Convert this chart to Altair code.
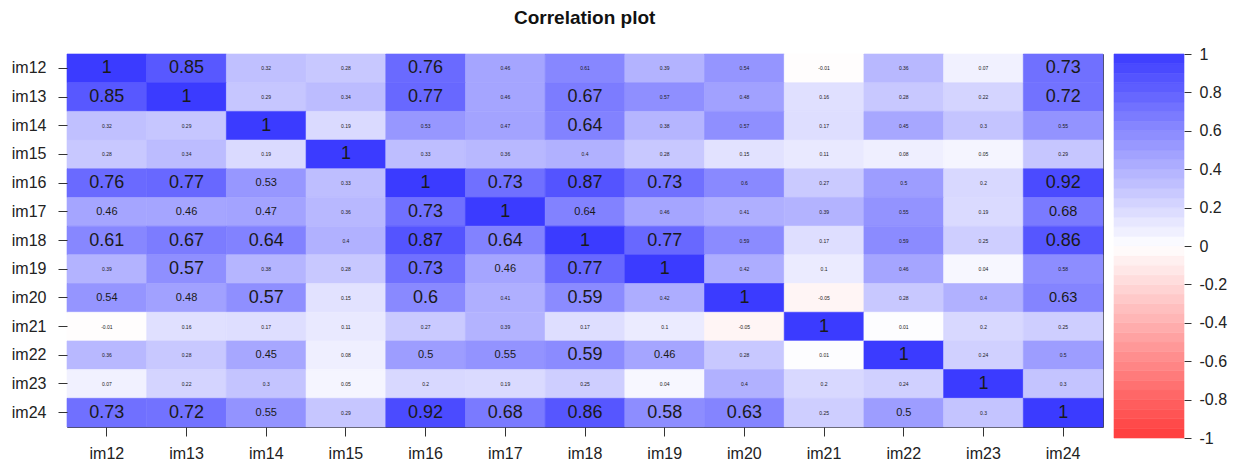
import altair as alt
import pandas as pd

variables = ["im12", "im13", "im14", "im15", "im16", "im17", "im18",
             "im19", "im20", "im21", "im22", "im23", "im24"]

corr_rows = [
    [1, 0.85, 0.32, 0.28, 0.76, 0.46, 0.61, 0.39, 0.54, -0.01, 0.36, 0.07, 0.73],
    [0.85, 1, 0.29, 0.34, 0.77, 0.46, 0.67, 0.57, 0.48, 0.16, 0.28, 0.22, 0.72],
    [0.32, 0.29, 1, 0.19, 0.53, 0.47, 0.64, 0.38, 0.57, 0.17, 0.45, 0.3, 0.55],
    [0.28, 0.34, 0.19, 1, 0.33, 0.36, 0.4, 0.28, 0.15, 0.11, 0.08, 0.05, 0.29],
    [0.76, 0.77, 0.53, 0.33, 1, 0.73, 0.87, 0.73, 0.6, 0.27, 0.5, 0.2, 0.92],
    [0.46, 0.46, 0.47, 0.36, 0.73, 1, 0.64, 0.46, 0.41, 0.39, 0.55, 0.19, 0.68],
    [0.61, 0.67, 0.64, 0.4, 0.87, 0.64, 1, 0.77, 0.59, 0.17, 0.59, 0.25, 0.86],
    [0.39, 0.57, 0.38, 0.28, 0.73, 0.46, 0.77, 1, 0.42, 0.1, 0.46, 0.04, 0.58],
    [0.54, 0.48, 0.57, 0.15, 0.6, 0.41, 0.59, 0.42, 1, -0.05, 0.28, 0.4, 0.63],
    [-0.01, 0.16, 0.17, 0.11, 0.27, 0.39, 0.17, 0.1, -0.05, 1, 0.01, 0.2, 0.25],
    [0.36, 0.28, 0.45, 0.08, 0.5, 0.55, 0.59, 0.46, 0.28, 0.01, 1, 0.24, 0.5],
    [0.07, 0.22, 0.3, 0.05, 0.2, 0.19, 0.25, 0.04, 0.4, 0.2, 0.24, 1, 0.3],
    [0.73, 0.72, 0.55, 0.29, 0.92, 0.68, 0.86, 0.58, 0.63, 0.25, 0.5, 0.3, 1],
]

# label emphasis level (1 = tiny, 4 = large)
emphasis_rows = [
    [4, 4, 1, 1, 4, 1, 1, 1, 1, 1, 1, 1, 4],
    [4, 4, 1, 1, 4, 1, 4, 1, 1, 1, 1, 1, 4],
    [1, 1, 4, 1, 1, 1, 4, 1, 1, 1, 1, 1, 1],
    [1, 1, 1, 4, 1, 1, 1, 1, 1, 1, 1, 1, 1],
    [4, 4, 2, 1, 4, 4, 4, 4, 1, 1, 1, 1, 4],
    [2, 2, 2, 1, 4, 4, 2, 1, 1, 1, 1, 1, 3],
    [4, 4, 4, 1, 4, 4, 4, 4, 1, 1, 1, 1, 4],
    [1, 4, 1, 1, 4, 2, 4, 4, 1, 1, 1, 1, 1],
    [2, 2, 4, 1, 4, 1, 4, 1, 4, 1, 1, 1, 3],
    [1, 1, 1, 1, 1, 1, 1, 1, 1, 4, 1, 1, 1],
    [1, 1, 2, 1, 2, 2, 4, 2, 1, 1, 4, 1, 1],
    [1, 1, 1, 1, 1, 1, 1, 1, 1, 1, 1, 4, 1],
    [4, 4, 2, 1, 4, 4, 4, 4, 4, 1, 2, 1, 4],
]

colorbar_ticks = [1, 0.8, 0.6, 0.4, 0.2, 0, -0.2, -0.4, -0.6, -0.8, -1]


def fmt(v):
    s = f"{v:.2f}".rstrip("0").rstrip(".")
    return s


records = []
for i, r in enumerate(variables):
    for j, c in enumerate(variables):
        v = corr_rows[i][j]
        records.append({"row": r, "col": c, "r": v, "label": fmt(v),
                        "emph": emphasis_rows[i][j]})
df = pd.DataFrame(records)

FONT = "Liberation Sans"
color_scale = alt.Scale(domain=[-1, 0, 1], range=["#FF3B3B", "#FFFFFF", "#3B3BFF"],
                        interpolate="rgb")

base = alt.Chart(df).encode(
    x=alt.X("col:N", sort=variables, title=None,
            axis=alt.Axis(orient="bottom", labelAngle=0, tickSize=9, labelPadding=9,
                          labelFontSize=16, domain=False, grid=False)),
    y=alt.Y("row:N", sort=variables, title=None,
            axis=alt.Axis(orient="left", tickSize=9, labelPadding=12,
                          labelFontSize=16, domain=False, grid=False)),
)

heat = base.mark_rect(strokeWidth=0.6).encode(
    color=alt.Color("r:Q", scale=color_scale, legend=None),
    stroke=alt.Stroke("r:Q", scale=color_scale, legend=None),
)
text = base.mark_text(font=FONT, color="#1a1a1a").encode(
    text="label:N",
    size=alt.Size("emph:Q", scale=alt.Scale(domain=[1, 2, 4], range=[5, 11, 18], zero=False),
                  legend=None),
)

main = alt.layer(heat, text).properties(
    width=1036, height=373,
    view=alt.ViewBackground(stroke="#444444", strokeWidth=1),
)

colorbar = alt.Chart(alt.sequence(-1, 0.99, 0.05, as_="v")).transform_calculate(
    v2="datum.v + 0.05", vm="datum.v + 0.025"
).mark_rect(strokeWidth=0.6).encode(
    x=alt.value(0), x2=alt.value(70),
    y=alt.Y("v:Q", scale=alt.Scale(domain=[-1, 1], nice=False, zero=False),
            axis=alt.Axis(orient="right", values=colorbar_ticks, tickSize=7,
                          labelPadding=8, labelFontSize=16, domain=False,
                          grid=False, title=None, labelExpr="datum.value + ''")),
    y2="v2:Q",
    color=alt.Color("vm:Q", scale=color_scale, legend=None),
    stroke=alt.Stroke("vm:Q", scale=color_scale, legend=None),
).properties(
    width=70, height=384,
    view=alt.ViewBackground(strokeOpacity=0),
)

chart = alt.hconcat(main, colorbar, spacing=9).properties(
    title=alt.TitleParams("Correlation plot", fontSize=19, fontWeight="bold",
                          font=FONT, anchor="middle", dx=-34, offset=18,
                          color="#111111"),
    padding={"left": 10, "top": 9, "right": 5, "bottom": 0},
).configure_axis(
    labelFont=FONT, labelColor="#222222", tickColor="#333333"
).configure_view(
    stroke="#444444"
)

chart.save("out.html", embed_options={"renderer": "svg", "actions": False})
